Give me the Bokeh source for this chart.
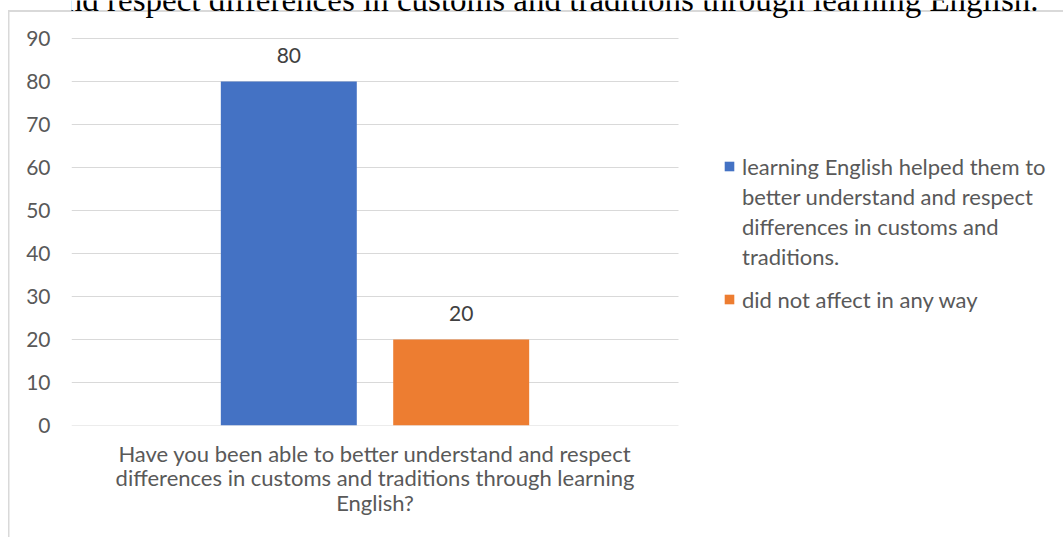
from bokeh.plotting import figure
from bokeh.models import (Range1d, ColumnDataSource, Legend, LegendItem,
                          LabelSet, Label, FixedTicker)
from bokeh.embed import file_html
from bokeh.resources import INLINE
from bokeh.core.properties import value

# ---------------- data ----------------
title_text = ("Have you been able to better understand and respect differences "
              "in customs and traditions through learning English.")
categories = ["Have you been able to better understand and respect\n"
              "differences in customs and traditions through learning\n"
              "English?"]
series_names = ["learning English helped them to\nbetter understand and respect\n"
                "differences in customs and\ntraditions.",
                "did not affect in any way"]
series_values = [80, 20]
series_colors = ["#4472C4", "#ED7D31"]
y_ticks = [0, 10, 20, 30, 40, 50, 60, 70, 80, 90]

FONT = "Lato"
TXT = "#595959"
W, H = 1063, 537
# layout (page pixels): plot area 71..678 x 38..425, frame extends right/up for legend & title
FL, FB = 71, 425
PLOT_W, PLOT_H = 607, 387
FRAME_W, FRAME_H = W - FL, FB

x_end = -0.5 + FRAME_W / PLOT_W
y_end = y_ticks[-1] * FRAME_H / PLOT_H

p = figure(width=W, height=H, x_range=Range1d(-0.5, x_end), y_range=Range1d(0, y_end),
           output_backend="svg", toolbar_location=None,
           min_border_left=FL, min_border_right=0, min_border_top=0,
           min_border_bottom=H - FB)
p.outline_line_color = None
p.background_fill_alpha = 0
p.border_fill_alpha = 0
# chart-area border (left and top edge) painted behind the transparent canvas
p.styles = {
    "background-color": "white",
    "background-image": "linear-gradient(#D9D9D9,#D9D9D9), linear-gradient(#D9D9D9,#D9D9D9)",
    "background-size": "1.5px 100%, 100% 2px",
    "background-position": "7.5px 10px, 7.5px 9.5px",
    "background-repeat": "no-repeat",
}

# horizontal gridlines across the category band
cat_idx = list(range(len(categories)))
p.segment(x0=[cat_idx[0] - 0.5] * len(y_ticks), x1=[cat_idx[-1] + 0.5] * len(y_ticks),
          y0=y_ticks, y1=y_ticks, line_color="#D9D9D9", line_width=1)

offsets = [-0.142, 0.142]
renderers = []
for val, col, off in zip(series_values, series_colors, offsets):
    src = ColumnDataSource(dict(x=[cat_idx[0] + off], val=[val], lbl=[str(val)]))
    r = p.vbar(x="x", top="val", width=0.224, source=src, fill_color=col, line_color=None)
    renderers.append(r)
    p.add_layout(LabelSet(x="x", y="val", text="lbl", source=src, text_align="center",
                          text_baseline="bottom", y_offset=19, text_font=value(FONT),
                          text_font_size="21px", text_color="#404040"))

# invisible renderer used only for legend continuation lines
blank = p.vbar(x=[], top=[], width=0.1, fill_alpha=0, line_alpha=0)

# axes
p.yaxis.ticker = FixedTicker(ticks=y_ticks)
p.yaxis.axis_line_color = None
p.yaxis.major_tick_line_color = None
p.yaxis.minor_tick_line_color = None
p.yaxis.major_label_standoff = 15
p.yaxis.major_label_text_font = FONT
p.yaxis.major_label_text_font_size = "21px"
p.yaxis.major_label_text_color = TXT

p.xaxis.ticker = FixedTicker(ticks=cat_idx)
p.xaxis.major_label_overrides = {i: c for i, c in zip(cat_idx, categories)}
p.xaxis.axis_line_color = None
p.xaxis.major_tick_line_color = None
p.xaxis.minor_tick_line_color = None
p.xaxis.major_label_standoff = 8
p.xaxis.major_label_text_font = FONT
p.xaxis.major_label_text_font_size = "22px"
p.xaxis.major_label_text_color = TXT
p.xaxis.major_label_text_line_height = 0.91

p.xgrid.grid_line_color = None
p.ygrid.grid_line_color = None

# legends: one row per text line, glyph only on the first line of each entry
common = dict(padding=0, margin=0, border_line_color=None, background_fill_alpha=0,
              glyph_width=12, glyph_height=12, label_standoff=7, spacing=0,
              label_height=30, label_text_font=FONT, label_text_font_size="22px",
              label_text_color=TXT)
lines_a = series_names[0].split("\n")
legend_a = Legend(items=[LegendItem(label=t, renderers=[renderers[0] if i == 0 else blank])
                         for i, t in enumerate(lines_a)],
                  location=(652, 154), **common)
lines_b = series_names[1].split("\n")
legend_b = Legend(items=[LegendItem(label=t, renderers=[renderers[1] if i == 0 else blank])
                         for i, t in enumerate(lines_b)],
                  location=(652, 111), **common)
p.add_layout(legend_a, "center")
p.add_layout(legend_b, "center")

# cut-off title above the chart box
p.add_layout(Label(x=1038 - FL, y=FB - 8 + 9, x_units="screen", y_units="screen",
                   text=title_text, text_align="right", text_baseline="alphabetic",
                   text_font="Liberation Serif", text_font_size="33px",
                   text_color="black"))

open("out.html", "w").write(file_html(p, INLINE))
